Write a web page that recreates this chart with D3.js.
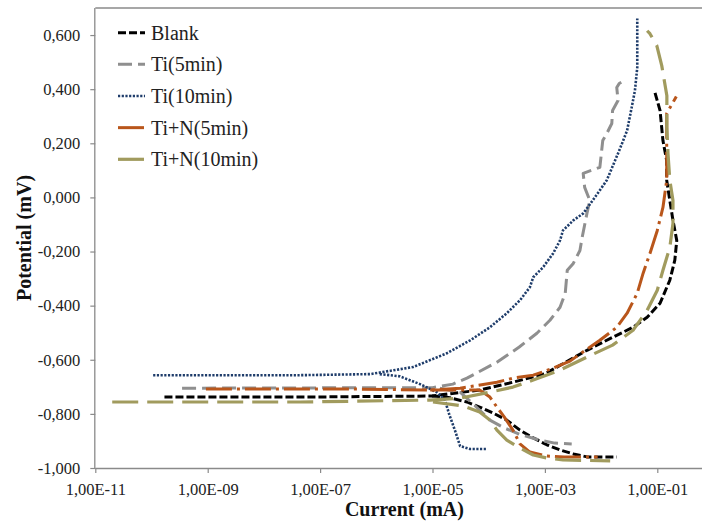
<!DOCTYPE html>
<html>
<head>
<meta charset="utf-8">
<script src="https://cdn.jsdelivr.net/npm/d3@7"></script>
<style>
  body { margin: 0; background: #fff; }
  svg text { font-family: "Liberation Serif", "Times New Roman", "DejaVu Serif", serif !important; }
</style>
</head>
<body>
<div id="chart"></div>
<script>
// values: [current (mA), potential]
const seriesNames = ["Blank", "Ti(5min)", "Ti(10min)", "Ti+N(5min)", "Ti+N(10min)"];

const blankAnodic = [[1.7e-10, -0.738], [4.4e-8, -0.738], [9.8e-6, -0.734], [6.9e-5, -0.712], [2.7e-4, -0.683],
  [1.0e-3, -0.652], [5.6e-3, -0.565], [1.6e-2, -0.517], [3.7e-2, -0.480], [6.6e-2, -0.443], [0.112, -0.391],
  [0.167, -0.306], [0.205, -0.232], [0.222, -0.159], [0.19, -0.085], [0.167, -0.011], [0.147, 0.063],
  [0.147, 0.136], [0.126, 0.210], [0.112, 0.321], [0.091, 0.387]];
const blankCathodic = [[9.8e-6, -0.734], [1.8e-5, -0.738], [4.1e-5, -0.756], [6.9e-5, -0.775], [1.2e-4, -0.797],
  [2.1e-4, -0.823], [3.6e-4, -0.860], [6.2e-4, -0.889], [1.1e-3, -0.915], [1.9e-3, -0.934], [3.2e-3, -0.948],
  [5.6e-3, -0.959], [1.9e-2, -0.959]];

const ti5Anodic = [[3.5e-10, -0.705], [1.0e-5, -0.703], [2.3e-5, -0.690], [4.1e-5, -0.668], [1.4e-4, -0.609],
  [3.5e-4, -0.553], [7.2e-4, -0.502], [1.23e-3, -0.454], [1.86e-3, -0.406], [2.3e-3, -0.354], [2.5e-3, -0.269],
  [3.2e-3, -0.244], [4.2e-3, -0.196], [4.6e-3, -0.148], [5.6e-3, -0.059], [6.3e-3, -0.011], [5.1e-3, 0.037],
  [4.8e-3, 0.089], [9.5e-3, 0.111], [1.07e-2, 0.210], [1.26e-2, 0.236], [1.55e-2, 0.273], [1.6e-2, 0.321],
  [2.0e-2, 0.358], [1.9e-2, 0.406], [2.1e-2, 0.421], [2.6e-2, 0.432]];
const ti5Cathodic = [[1.35e-5, -0.705], [3.1e-5, -0.720], [5.6e-5, -0.768], [1.05e-4, -0.823], [1.9e-4, -0.852],
  [3.5e-4, -0.875], [8.1e-4, -0.897], [1.5e-3, -0.908], [3.0e-3, -0.911]];

const ti10Anodic = [[1.07e-10, -0.657], [4.4e-8, -0.657], [7.8e-7, -0.653], [4.5e-6, -0.627], [1.8e-5, -0.576],
  [4.7e-5, -0.528], [1.05e-4, -0.480], [2.1e-4, -0.428], [3.6e-4, -0.380], [5.4e-4, -0.332], [6.2e-4, -0.295],
  [9.3e-4, -0.258], [1.4e-3, -0.207], [1.86e-3, -0.159], [2.1e-3, -0.122], [3.2e-3, -0.085], [4.8e-3, -0.059],
  [7.1e-3, -0.011], [1.26e-2, 0.063], [2.1e-2, 0.173], [2.9e-2, 0.247], [3.5e-2, 0.332], [4.0e-2, 0.395],
  [4.4e-2, 0.480], [4.4e-2, 0.661]];
const ti10Cathodic = [[1.15e-6, -0.653], [2.6e-6, -0.661], [6.0e-6, -0.690], [1.2e-5, -0.720], [1.66e-5, -0.749],
  [2.0e-5, -0.804], [2.5e-5, -0.860], [3.1e-5, -0.919], [4.7e-5, -0.930], [9.3e-5, -0.930]];

const tiN5Anodic = [[9.3e-10, -0.708], [3.4e-7, -0.708], [9.1e-6, -0.712], [3.1e-5, -0.705], [1.4e-4, -0.683],
  [2.7e-4, -0.668], [6.2e-4, -0.657], [1.4e-3, -0.631], [2.8e-3, -0.605], [4.2e-3, -0.579], [9.5e-3, -0.528],
  [1.9e-2, -0.480], [2.9e-2, -0.428], [4.4e-2, -0.354], [5.6e-2, -0.280], [7.4e-2, -0.207], [0.1, -0.122],
  [0.126, -0.037], [0.147, 0.063], [0.147, 0.173], [0.147, 0.310], [0.218, 0.373]];
const tiN5Cathodic = [[9.1e-6, -0.712], [6.9e-5, -0.712], [1.05e-4, -0.738], [1.4e-4, -0.775], [1.9e-4, -0.812],
  [2.7e-4, -0.860], [3.6e-4, -0.911], [5.4e-4, -0.941], [1.07e-3, -0.956], [2.2e-3, -0.959], [8.7e-3, -0.959]];

const tiN10Anodic = [[2.0e-11, -0.756], [4.4e-8, -0.756], [9.1e-6, -0.749], [3.1e-5, -0.742], [1.05e-4, -0.720],
  [2.7e-4, -0.701], [6.2e-4, -0.675], [1.86e-3, -0.638], [5.6e-3, -0.590], [1.6e-2, -0.546], [3.7e-2, -0.491],
  [6.6e-2, -0.417], [0.1, -0.343], [0.126, -0.269], [0.167, -0.185], [0.19, -0.096], [0.19, -0.011],
  [0.167, 0.063], [0.155, 0.162], [0.148, 0.258], [0.148, 0.376], [0.12, 0.487], [0.098, 0.561],
  [0.074, 0.605], [0.066, 0.616]];
const tiN10Cathodic = [[1.02e-5, -0.756], [3.5e-5, -0.771], [6.9e-5, -0.793], [1.05e-4, -0.823], [1.4e-4, -0.860],
  [2.1e-4, -0.897], [3.6e-4, -0.926], [6.2e-4, -0.952], [1.07e-3, -0.963], [2.1e-3, -0.970], [1.45e-2, -0.974]];

const xTicks = [1e-11, 1e-9, 1e-7, 1e-5, 1e-3, 1e-1];
const yTicks = [-1, -0.8, -0.6, -0.4, -0.2, 0, 0.2, 0.4, 0.6];

const branches = [
  [blankAnodic, blankCathodic],
  [ti5Anodic, ti5Cathodic],
  [ti10Anodic, ti10Cathodic],
  [tiN5Anodic, tiN5Cathodic],
  [tiN10Anodic, tiN10Cathodic]
];

// styles
const colors = ["#000000", "#8f8f8f", "#1f3d6b", "#b9561b", "#a19b5e"];
const dashes = ["8,3", "14,6", "2.2,1.5", "26,5,3,5", "26,9"];
const widths = [3, 3, 2.6, 3, 3.2];

const width = 702, height = 524;
const plotLeft = 95.3, plotTop = 8, plotBottom = 468, plotRight = 713.5;

const svg = d3.select("#chart").append("svg")
  .attr("width", width)
  .attr("height", height);

const x = d3.scaleLog().domain([1e-11, 1]).range([plotLeft, plotRight]);
const y = d3.scaleLinear().domain([-1, 0.7]).range([plotBottom, plotTop]);

const locale = d3.formatLocale({ decimal: ",", thousands: ".", grouping: [3], currency: ["", ""], minus: "-" });
const yFmt = locale.format(".3f");
const xFmt = v => "1,00E-" + String(Math.round(-Math.log10(v))).padStart(2, "0");

// frame
svg.append("line").attr("x1", plotLeft).attr("x2", plotRight).attr("y1", plotTop).attr("y2", plotTop)
  .attr("stroke", "#8a8a8a").attr("stroke-width", 1.3);

const xAxis = svg.append("g")
  .attr("transform", `translate(0,${plotBottom})`)
  .call(d3.axisBottom(x).tickValues(xTicks).tickFormat(xFmt).tickSize(5).tickPadding(10));

const yAxis = svg.append("g")
  .attr("transform", `translate(${plotLeft},0)`)
  .call(d3.axisLeft(y).tickValues(yTicks).tickFormat(yFmt).tickSize(5).tickPadding(10));

[xAxis, yAxis].forEach(a => {
  a.attr("font-family", null);
  a.select(".domain").attr("stroke", "#8a8a8a").attr("stroke-width", 1.3);
  a.selectAll(".tick line").attr("stroke", "#8a8a8a").attr("stroke-width", 1.2);
  a.selectAll("text").attr("fill", "#222").style("font-size", "16.5px");
});
xAxis.select(".domain").attr("d", `M${plotLeft},0.5H${plotRight}`);
yAxis.select(".domain").attr("d", `M-0.5,${plotTop}V${plotBottom}`);

// curves
const line = d3.line().x(d => x(d[0])).y(d => y(d[1])).curve(d3.curveLinear);

branches.forEach((pair, i) => {
  pair.forEach(pts => {
    svg.append("path")
      .datum(pts)
      .attr("d", line)
      .attr("fill", "none")
      .attr("stroke", colors[i])
      .attr("stroke-width", widths[i])
      .attr("stroke-dasharray", dashes[i])
      .attr("stroke-linejoin", "round");
  });
});

// legend
const legend = svg.append("g");
seriesNames.forEach((name, i) => {
  const ly = 32.7 + i * 31.65;
  legend.append("line")
    .attr("x1", 118).attr("x2", 145).attr("y1", ly).attr("y2", ly)
    .attr("stroke", colors[i])
    .attr("stroke-width", widths[i])
    .attr("stroke-dasharray", dashes[i]);
  legend.append("text")
    .attr("x", 151).attr("y", ly + 7)
    .attr("fill", "#222")
    .style("font-size", "20px")
    .text(name);
});

// axis titles
svg.append("text")
  .attr("x", (plotLeft + plotRight) / 2).attr("y", 516)
  .attr("text-anchor", "middle")
  .style("font-weight", "bold").style("font-size", "20px")
  .attr("fill", "#111")
  .text("Current (mA)");

svg.append("text")
  .attr("transform", `translate(31,${(plotTop + plotBottom) / 2}) rotate(-90)`)
  .attr("text-anchor", "middle")
  .style("font-weight", "bold").style("font-size", "20px")
  .attr("fill", "#111")
  .text("Potential (mV)");
</script>
</body>
</html>
